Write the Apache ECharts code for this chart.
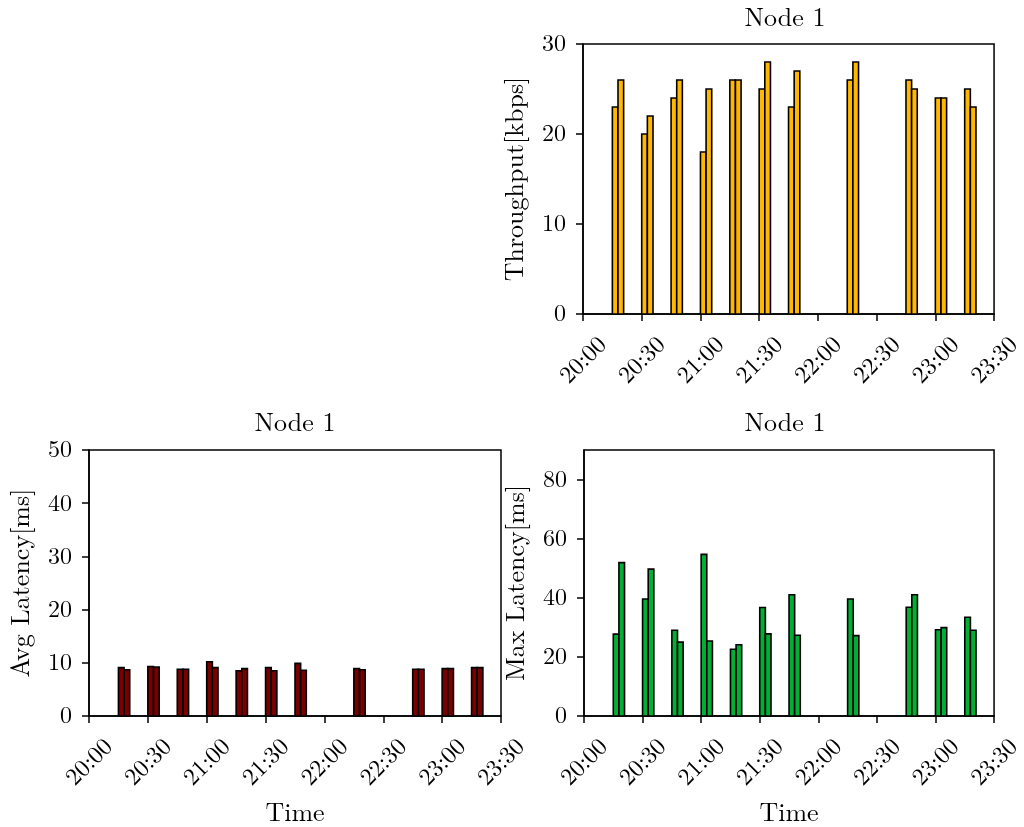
<!DOCTYPE html>
<html>
<head>
<meta charset="utf-8">
<script src="https://cdn.jsdelivr.net/npm/echarts@6/dist/echarts.min.js"></script>
<style>
html,body{margin:0;padding:0;background:#fff;overflow:hidden;}
#c{width:1024px;height:827px;}
</style>
</head>
<body>
<div id="c"></div>
<script>
// ---- data ----
var times = ["20:15","20:30","20:45","21:00","21:15","21:30","21:45","22:15","22:45","23:00","23:15"];
var throughputA = [23, 20, 24, 18, 26, 25, 23, 26, 26, 24, 25];
var throughputB = [26, 22, 26, 25, 26, 28, 27, 28, 25, 24, 23];
var avgLatA = [9.1, 9.3, 8.8, 10.2, 8.5, 9.1, 9.9, 8.9, 8.8, 8.9, 9.1];
var avgLatB = [8.7, 9.2, 8.8, 9.1, 8.9, 8.5, 8.6, 8.7, 8.8, 8.9, 9.1];
var maxLatA = [27.7, 39.6, 29.0, 54.7, 22.6, 36.7, 41.0, 39.6, 36.8, 29.2, 33.4];
var maxLatB = [51.9, 49.7, 25.0, 25.4, 24.1, 27.8, 27.3, 27.2, 41.0, 29.9, 29.0];
var xTickLabels = ["20:00","20:30","21:00","21:30","22:00","22:30","23:00","23:30"];

var BAR_W = 2.88; // bar width in minutes (0.002 day)
var FONT = "'Latin Modern Roman','CMU Serif','Liberation Serif',serif";
var FS = 24;      // tick labels
var FS_NAME = 26; // axis names and titles

function toMin(s){ var p = s.split(':'); return (parseInt(p[0],10) - 20) * 60 + parseInt(p[1],10); }
function pairs(vals){ return times.map(function(t,i){ return [toMin(t), vals[i]]; }); }

function barSeries(idx, vals, slot, color){
  return {
    type: 'custom', xAxisIndex: idx, yAxisIndex: idx,
    data: pairs(vals),
    renderItem: function(params, api){
      var t = api.value(0), v = api.value(1);
      var p0 = api.coord([t + slot * BAR_W, v]);
      var p1 = api.coord([t + (slot + 1) * BAR_W, 0]);
      return {
        type: 'rect',
        shape: {x: p0[0], y: p0[1], width: p1[0] - p0[0], height: p1[1] - p0[1]},
        style: {fill: color, stroke: '#000', lineWidth: 1.6}
      };
    }
  };
}

function xAxis(idx, showName){
  return {
    type: 'value', gridIndex: idx, min: 0, max: 210, interval: 30,
    splitLine: {show: false},
    axisLine: {show: true, onZero: false, lineStyle: {color: '#000', width: 1.5}},
    axisTick: {show: true, length: 7, inside: false, lineStyle: {color: '#000', width: 1.5}},
    axisLabel: {
      rotate: 45, margin: 46, align: 'center', verticalAlign: 'middle',
      color: '#000', fontFamily: FONT, fontSize: FS,
      formatter: function(v){ return xTickLabels[Math.round(v / 30)]; }
    },
    name: showName ? 'Time' : '', nameLocation: 'middle', nameGap: 84,
    nameTextStyle: {color: '#000', fontFamily: FONT, fontSize: FS_NAME}
  };
}

function yAxis(idx, max, interval, name, custom){
  var a = {
    type: 'value', gridIndex: idx, min: 0, max: max, interval: interval,
    splitLine: {show: false},
    axisLine: {show: true, lineStyle: {color: '#000', width: 1.5}},
    axisTick: {show: true, length: 7, lineStyle: {color: '#000', width: 1.5}},
    axisLabel: {margin: 17, color: '#000', fontFamily: FONT, fontSize: FS},
    name: name, nameLocation: 'middle', nameGap: 55,
    nameTextStyle: {color: '#000', fontFamily: FONT, fontSize: FS_NAME}
  };
  if (custom) {
    a.axisTick.customValues = custom;
    a.axisLabel.customValues = custom;
  }
  return a;
}

var chart = echarts.init(document.getElementById('c'), null, {renderer: 'canvas', width: 1024, height: 827});
var gridStyle = {show: true, borderColor: '#000', borderWidth: 1.5, containLabel: false};
var titleStyle = {fontFamily: FONT, fontSize: FS_NAME, fontWeight: 'normal', color: '#000'};
chart.setOption({
  animation: false,
  backgroundColor: '#fff',
  title: [
    {text: 'Node 1', left: 780, top: 0, textAlign: 'center', textStyle: titleStyle},
    {text: 'Node 1', left: 290, top: 405, textAlign: 'center', textStyle: titleStyle},
    {text: 'Node 1', left: 780, top: 405, textAlign: 'center', textStyle: titleStyle}
  ],
  grid: [
    Object.assign({left: 583, top: 44, width: 414, height: 270}, gridStyle),
    Object.assign({left: 89, top: 450, width: 412, height: 270}, gridStyle),
    Object.assign({left: 584, top: 450, width: 412, height: 270}, gridStyle)
  ],
  xAxis: [xAxis(0, false), xAxis(1, true), xAxis(2, true)],
  yAxis: [
    yAxis(0, 30, 10, 'Throughput[kbps]'),
    yAxis(1, 50, 10, 'Avg Latency[ms]'),
    yAxis(2, 90, 20, 'Max Latency[ms]', [0, 20, 40, 60, 80])
  ],
  series: [
    barSeries(0, throughputA, 0, '#FFB700'),
    barSeries(0, throughputB, 1, '#FFB700'),
    barSeries(1, avgLatA, 0, '#7A0000'),
    barSeries(1, avgLatB, 1, '#7A0000'),
    barSeries(2, maxLatA, 0, '#00B034'),
    barSeries(2, maxLatB, 1, '#00B034')
  ]
});
</script>
</body>
</html>
